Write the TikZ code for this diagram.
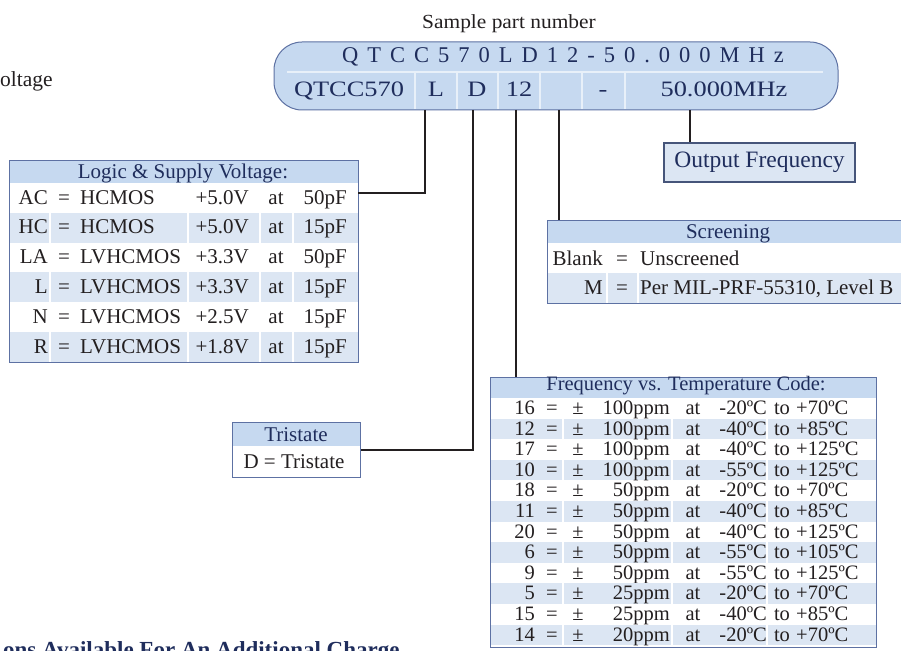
\documentclass[tikz,border=0pt]{standalone}
\usepackage{fontspec}
\setmainfont{Liberation Serif}
\definecolor{bandblue}{HTML}{C6D9F0}
\definecolor{rowblue}{HTML}{DCE6F3}
\definecolor{edgeblue}{HTML}{5D71A3}
\definecolor{navy}{HTML}{1F2D5C}
\definecolor{ink}{HTML}{231F20}
\newcommand{\tabfont}{\fontsize{21}{23}\selectfont}
\newcommand{\codefont}{\fontsize{20.5}{22}\selectfont}
\newcommand{\pnfont}{\fontsize{22}{24}\selectfont\addfontfeatures{FakeStretch=1.2}}

\begin{document}
\begin{tikzpicture}[x=1pt,y=-1pt,band/.style={draw=edgeblue, fill=bandblue, line width=1pt, rounded corners=28pt, inner sep=0pt},frame/.style={draw=edgeblue, line width=1.2pt, inner sep=0pt, anchor=north west},hdr/.style={font=\tabfont, text=navy, inner sep=0pt, anchor=base},cell/.style={font=\tabfont, text=ink, inner sep=0pt},fcell/.style={font=\codefont, text=ink, inner sep=0pt},gap/.style={draw=white, line width=1.5pt},wire/.style={draw=ink, line width=2.6pt}]
\useasboundingbox (0,0) rectangle (901,650);
\clip (0,0) rectangle (901,650);
\node[cell, anchor=base west, font=\fontsize{21.5}{23}\selectfont] (volt) at (0,87) {oltage};
\node[cell, anchor=base, font=\fontsize{20}{22}\selectfont\addfontfeatures{FakeStretch=1.07}] (sample) at (509,29) {Sample part number};
\node[band, minimum width=564pt, minimum height=68pt] (pn) at (556,76) {};
\draw[gap, draw=white!60!bandblue, line width=2pt] (287,72) -- (823,72);
\foreach \x in {415,457,498,540,582,625} {\draw[gap, draw=white!60!bandblue] (\x,72) -- (\x,109.5);}
\node[hdr, font=\fontsize{22.5}{24}\selectfont\addfontfeatures{LetterSpace=40}] (pnfull) at (563,63) {QTCC570LD12-50.000MHz};
\foreach \x/\t [count=\k] in {349/QTCC570, 436/L, 477/D, 519/12, 603/-, 724/50.000MHz} {\node[hdr, font=\pnfont] (pc\k) at (\x,97) {\t};}
\coordinate (tapL) at (425,110);
\coordinate (tapD) at (473,110);
\coordinate (tapN) at (516,110);
\coordinate (tapS) at (559,110);
\coordinate (tapF) at (690,110);
\fill[bandblue] (9,160) rectangle (358,183);
\foreach \c/\n/\v/\p [count=\i] in {AC/HCMOS/+5.0V/50pF, HC/HCMOS/+5.0V/15pF, LA/LVHCMOS/+3.3V/50pF, L/LVHCMOS/+3.3V/15pF, N/LVHCMOS/+2.5V/15pF, R/LVHCMOS/+1.8V/15pF} {\pgfmathsetmacro\ry{183+29.83*(\i-1)}\ifodd\i\else\fill[rowblue] (9,\ry) rectangle (358,\ry+29.83);\foreach \x in {50,188,260,293} {\draw[gap] (\x,\ry) -- (\x,\ry+29.83);}\fi
\node[cell, anchor=base east] (lc\i) at (48,\ry+21) {\c};\node[cell, anchor=base] (le\i) at (64,\ry+21) {=};\node[cell, anchor=base west] (ln\i) at (80,\ry+21) {\n};\node[cell, anchor=base east] (lv\i) at (249,\ry+21) {\v};\node[cell, anchor=base] (la\i) at (276,\ry+21) {at};\node[cell, anchor=base east] (lp\i) at (347,\ry+21) {\p};}
\node[frame, minimum width=349pt, minimum height=202pt] (lsv) at (9,160) {};
\node[hdr] (lsvhead) at (183,178) {Logic \& Supply Voltage:};
\coordinate (lsvin) at (358,193);
\draw[wire] (tapL) |- (lsvin);
\fill[bandblue] (232,422) rectangle (360,446);
\node[frame, minimum width=128pt, minimum height=55pt] (tri) at (232,422) {};
\node[hdr] (trihead) at (296,441) {Tristate};
\node[cell, anchor=base] (tridef) at (294,468) {D = Tristate};
\draw[wire] (tapD) |- (tri.east);
\fill[bandblue] (547,220) rectangle (910,243);
\fill[rowblue] (547,273) rectangle (910,303);
\foreach \x in {607,638} {\draw[gap] (\x,273) -- (\x,303);}
\node[frame, minimum width=363pt, minimum height=83pt] (scr) at (547,220) {};
\node[hdr] (scrhead) at (728,238) {Screening};
\node[cell, anchor=base east] (sc1) at (603,265) {Blank};
\node[cell, anchor=base] (se1) at (622,265) {=};
\node[cell, anchor=base west] (sd1) at (640,265) {Unscreened};
\node[cell, anchor=base east] (sc2) at (603,294) {M};
\node[cell, anchor=base] (se2) at (622,294) {=};
\node[cell, anchor=base west] (sd2) at (640,294) {Per MIL-PRF-55310, Level B};
\draw[wire] (tapS) -- (tapS |- scr.north);
\fill[bandblue] (490,377) rectangle (876,398);
\foreach \c/\pp/\lo/\hi [count=\i] in {16/100/-20/+70, 12/100/-40/+85, 17/100/-40/+125, 10/100/-55/+125, 18/50/-20/+70, 11/50/-40/+85, 20/50/-40/+125, 6/50/-55/+105, 9/50/-55/+125, 5/25/-20/+70, 15/25/-40/+85, 14/20/-20/+70} {\pgfmathsetmacro\ry{398+20.6*(\i-1)}\ifodd\i\else\fill[rowblue] (490,\ry) rectangle (876,\ry+20.6);\foreach \x in {563,672,767} {\draw[gap] (\x,\ry) -- (\x,\ry+20.6);}\fi
\node[fcell, anchor=base east] (fc\i) at (535,\ry+16.5) {\c};\node[fcell, anchor=base] (fe\i) at (552,\ry+16.5) {=};\node[fcell, anchor=base] (fpm\i) at (578,\ry+16.5) {±};\node[fcell, anchor=base east] (fp\i) at (670,\ry+16.5) {\pp{}ppm};\node[fcell, anchor=base] (fa\i) at (693,\ry+16.5) {at};\node[fcell, anchor=base east] (fl\i) at (767,\ry+16.5) {\lo{}ºC};\node[fcell, anchor=base] (ft\i) at (782,\ry+16.5) {to};\node[fcell, anchor=base west] (fh\i) at (796,\ry+16.5) {\hi{}ºC};}
\node[frame, minimum width=386pt, minimum height=270pt] (fvt) at (490,377) {};
\node[hdr, font=\codefont] (fvthead) at (686,390) {Frequency vs. Temperature Code:};
\draw[wire] (tapN) -- (tapN |- fvt.north);
\node[draw=edgeblue!75!black, fill=rowblue, line width=1.2pt, minimum width=191pt, minimum height=39pt, inner sep=0pt, font=\fontsize{23.5}{25}\selectfont, text=navy] (outf) at (759.5,162.5) {Output Frequency};
\draw[wire] (tapF) -- (tapF |- outf.north);
\node[anchor=base west, inner sep=0pt, text=navy, font=\bfseries\fontsize{23}{25}\selectfont] (extra) at (3,657.5) {ons Available For An Additional Charge};
\end{tikzpicture}
\end{document}
